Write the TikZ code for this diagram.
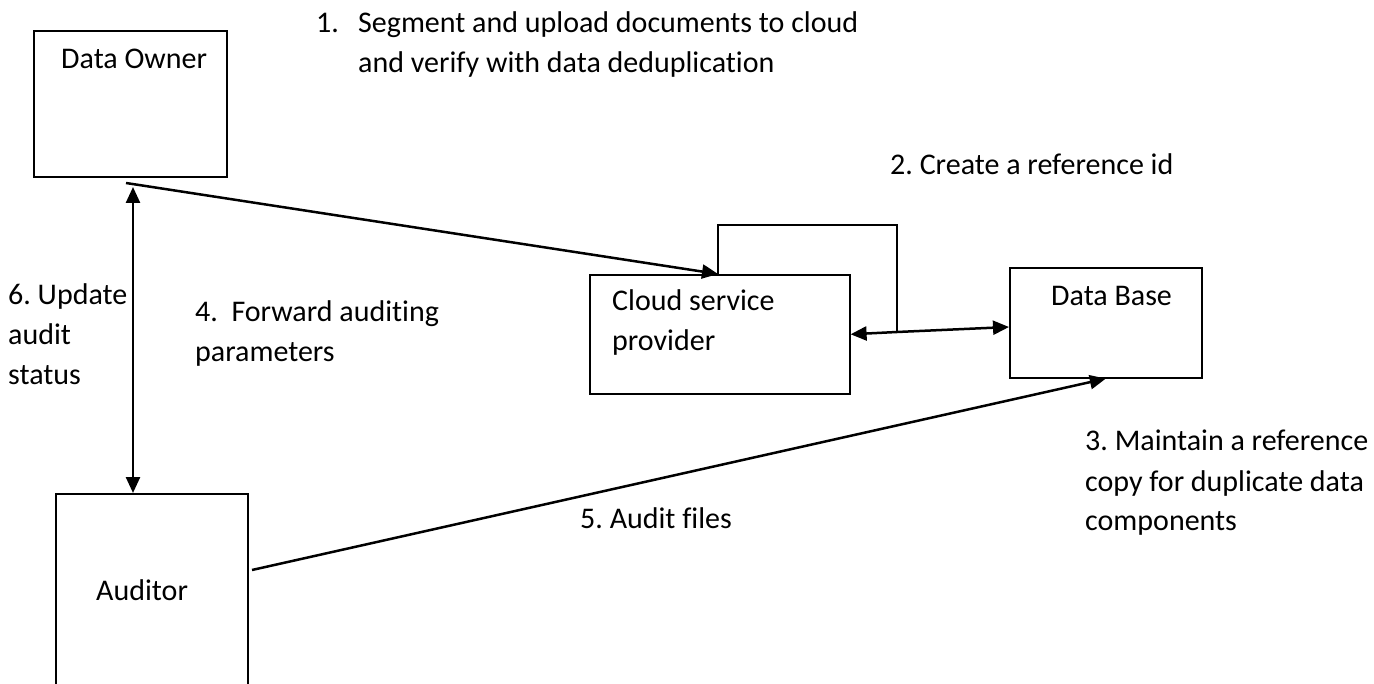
\documentclass[tikz,border=0pt]{standalone}
\usepackage{fontspec}
\setmainfont{Carlito}[Ligatures=NoCommon]
\usetikzlibrary{arrows.meta}
\begin{document}
\frenchspacing
\begin{tikzpicture}[x=1pt,y=-1pt,
  box/.style={draw,line width=1.6pt,inner sep=0pt,anchor=north west},
  txt/.style={anchor=base west,inner sep=0pt,font=\fontsize{30}{40}\selectfont},
  lw/.style={line width=2.5pt},
  conn/.style={lw,-{Triangle[length=16pt,width=14pt]}},
  dconn/.style={lw,{Triangle[length=16pt,width=14pt]}-{Triangle[length=16pt,width=14pt]}},
]
\useasboundingbox (0,0) rectangle (1374,684);
\clip (0,0) rectangle (1374,684);
% boxes
\node[box,minimum width=193pt,minimum height=146pt] (owner) at (33,30) {};
\node[box,minimum width=260pt,minimum height=119pt] (csp) at (589,274) {};
\node[box,minimum width=192pt,minimum height=110pt] (db) at (1009,267) {};
\node[box,minimum width=192pt,minimum height=230pt] (auditor) at (55,493) {};
% texts
\node[txt] (townr) at (61,69) {Data Owner};
\node[txt] (tcsp) at (612,311) {\begin{tabular}[t]{@{}l@{}}Cloud service\\provider\end{tabular}};
\node[txt] (tdb) at (1051,306) {Data Base};
\node[txt] (taud) at (96,600) {Auditor};
\node[txt] (t1) at (316,33) {\begin{tabular}[t]{@{}l@{}l@{}}\makebox[42pt][l]{1.}&Segment and upload documents to cloud\\&and verify with data deduplication\end{tabular}};
\node[txt] (t2) at (890,175) {2. Create a reference id};
\node[txt] (t3) at (1085,451) {\begin{tabular}[t]{@{}l@{}}3. Maintain a reference\\copy for duplicate data\\components\end{tabular}};
\node[txt] (t4) at (195,322) {\begin{tabular}[t]{@{}l@{}}4.\ \ Forward auditing\\parameters\end{tabular}};
\node[txt] (t5) at (580,528) {5. Audit files};
\node[txt] (t6) at (8,305) {\begin{tabular}[t]{@{}l@{}}6. Update\\audit\\status\end{tabular}};
% connectors
\coordinate (ownerout) at (126,183);
\coordinate (cspin) at (718,274);
\coordinate (looptop) at (718,225);
\coordinate (loopr) at (897,332);
\coordinate (dbin) at (1009,327);
\coordinate (ownerdown) at (133,187);
\coordinate (audout) at (252,570);
\draw[conn] (ownerout) -- (cspin);
\draw[lw] (cspin) -- (looptop) -| (loopr);
\draw[conn] (loopr) -- (csp.east);
\draw[conn] (loopr) -- (dbin);
\draw[dconn] (ownerdown) -- (ownerdown |- auditor.north);
\draw[conn] (audout) -- (db.south);
\end{tikzpicture}
\end{document}
